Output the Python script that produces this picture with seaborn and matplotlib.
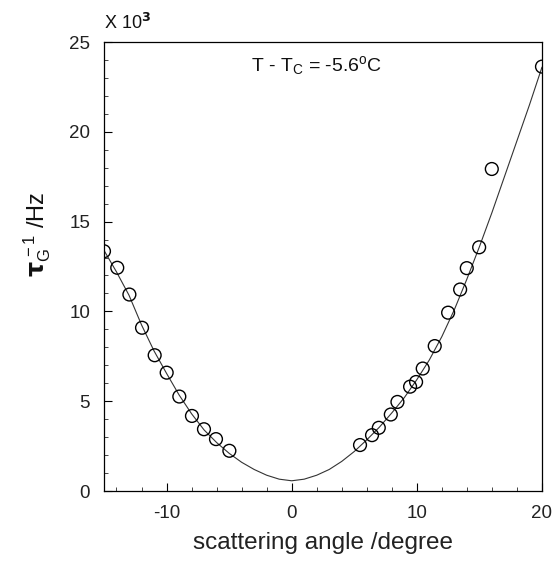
import matplotlib
matplotlib.use("Agg")
import matplotlib.pyplot as plt
import seaborn as sns
import pandas as pd
from matplotlib.ticker import MultipleLocator

sns.set_theme(style="white")
plt.rcParams['font.family'] = ['Liberation Sans', 'DejaVu Sans']
plt.rcParams['mathtext.fontset'] = 'custom'
plt.rcParams['mathtext.rm'] = 'Liberation Sans'
plt.rcParams['mathtext.it'] = 'Liberation Sans:italic'
plt.rcParams['axes.unicode_minus'] = False

# measured points (angle in degrees, rate in 10^3 Hz)
angle = [-15.0, -13.94, -12.97, -11.96, -10.95, -9.99, -8.98, -7.97, -7.01, -6.05, -4.98,
         5.46, 6.42, 6.96, 7.92, 8.45, 9.46, 9.94, 10.47, 11.43, 12.5, 13.46, 13.99, 14.98,
         15.99, 20.0]
rate = [13.35, 12.43, 10.94, 9.09, 7.56, 6.59, 5.26, 4.18, 3.44, 2.89, 2.24,
        2.56, 3.11, 3.52, 4.26, 4.96, 5.81, 6.07, 6.82, 8.07, 9.93, 11.22, 12.41, 13.57,
        17.93, 23.63]

# fitted curve
fit_angle = [-15, -14, -13, -12, -11, -10, -9, -8, -7, -6, -5, -4, -3, -2, -1, 0,
             1, 2, 3, 4, 5, 6, 7, 8, 9, 10, 11, 12, 13, 14, 15, 16, 17, 18, 19, 20]
fit_rate = [13.4, 12.2, 10.9, 9.25, 7.8, 6.55, 5.35, 4.3, 3.4, 2.7, 2.1, 1.6, 1.2, 0.88, 0.66, 0.57,
            0.66, 0.88, 1.2, 1.65, 2.2, 2.85, 3.55, 4.35, 5.2, 6.2, 7.3, 8.6, 10.1, 11.8, 13.6,
            15.5, 17.5, 19.5, 21.5, 23.6]

x_major = [-10, 0, 10, 20]
y_major = [0, 5, 10, 15, 20, 25]

pts = pd.DataFrame({"angle": angle, "rate": rate})
fit = pd.DataFrame({"angle": fit_angle, "rate": fit_rate})

fig = plt.figure(figsize=(5.54, 5.64), dpi=100)
ax = fig.add_axes([0.1877, 0.1294, 0.7906, 0.7961])

sns.lineplot(data=fit, x="angle", y="rate", ax=ax, color="#333333", linewidth=0.8,
             sort=True, estimator=None)
sns.scatterplot(data=pts, x="angle", y="rate", ax=ax, s=85, marker="o",
                facecolor="none", edgecolor="black", linewidth=1.0, zorder=3)

ax.set_xlim(-15, 20)
ax.set_ylim(0, 25)
ax.set_xticks(x_major)
ax.set_yticks(y_major)
ax.xaxis.set_minor_locator(MultipleLocator(2))
ax.yaxis.set_minor_locator(MultipleLocator(1))
ax.tick_params(which="major", direction="in", length=6, width=0.8, labelsize=13.5,
               bottom=True, left=True, colors="black", pad=10)
ax.tick_params(which="minor", direction="in", length=3, width=0.6, bottom=True, left=True)
for lab in ax.get_xticklabels() + ax.get_yticklabels():
    lab.set_color("#222222")
for s in ax.spines.values():
    s.set_color("black")
    s.set_linewidth(0.9)

ax.set_xlabel("scattering angle /degree", fontsize=17.5, labelpad=7, color="#222222")
ax.set_ylabel(r"$\mathbf{\tau}_{\rm G}^{\,\rm -1}$ /Hz", fontsize=17, color="#111111",
              va="center", ha="center")
ax.yaxis.set_label_coords(-0.153, 0.572)

ax.text(2.0, 23.7, r"T - T$_{\rm C}$ = -5.6$^{\rm o}$C", fontsize=14,
        ha="center", va="center", color="#111111")
ax.text(0.0, 1.02, r"X 10$^{\mathbf{3}}$", transform=ax.transAxes, fontsize=13,
        ha="left", va="bottom", color="#111111")

fig.savefig("out.png", dpi=100)
